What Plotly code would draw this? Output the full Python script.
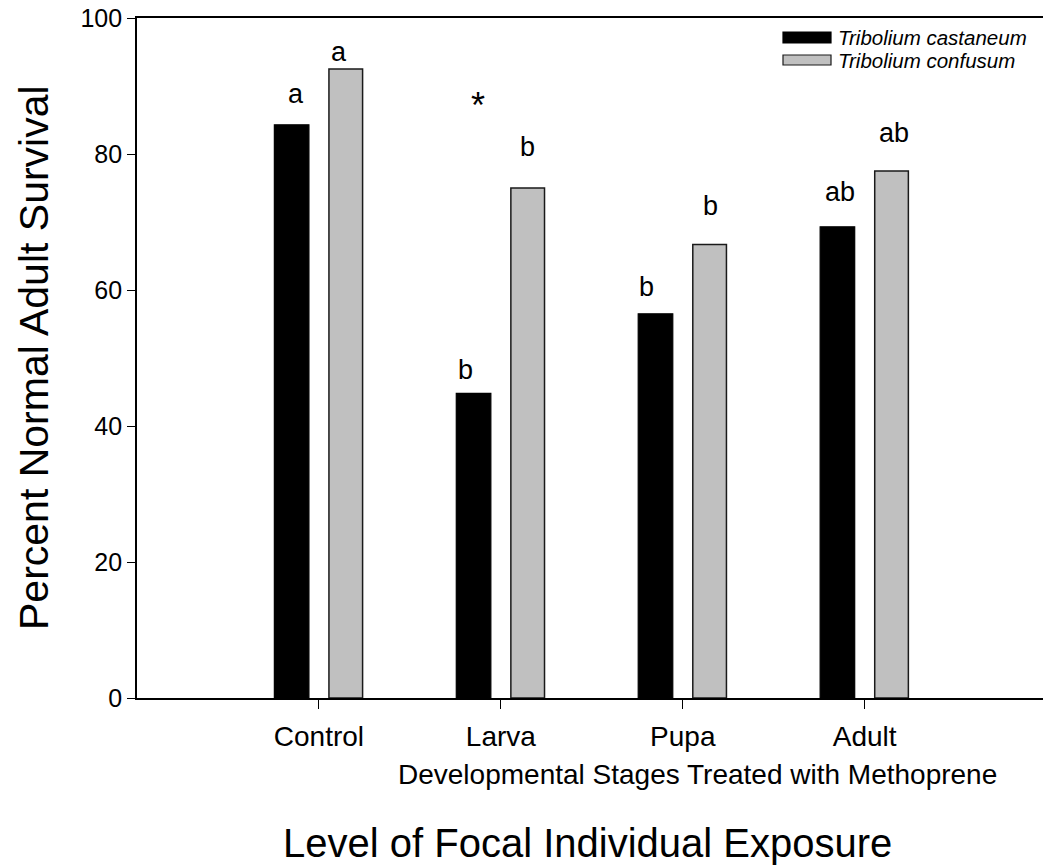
import plotly.graph_objects as go

# Survival data (percent normal adults) by treated developmental stage
stages = ["Control", "Larva", "Pupa", "Adult"]
castaneum = [84.3, 44.8, 56.5, 69.3]
confusum = [92.5, 75.0, 66.7, 77.5]

# Significance letters above each bar and the height (data units) of their baseline
castaneum_letters = ["a", "b", "b", "ab"]
confusum_letters = ["a", "b", "b", "ab"]
castaneum_letter_y = [87.3, 46.8, 59.0, 72.9]
confusum_letter_y = [93.6, 79.6, 70.9, 81.6]

y_ticks = [0, 20, 40, 60, 80, 100]

species_names = ["Tribolium castaneum", "Tribolium confusum"]

FONT = "Arial, Liberation Sans, sans-serif"
BLACK = "#000000"
GREY = "#c0c0c0"

# Figure geometry in pixels
FIG_W, FIG_H = 1043, 867
LEFT, TOP, BOTTOM = 137, 18, 698
PLOT_W = FIG_W - LEFT
PLOT_H = BOTTOM - TOP


def px_x(p):
    return (p - LEFT) / PLOT_W


def px_y(p):
    return (BOTTOM - p) / PLOT_H


BAR_W = 0.19
OFF_A = -0.245
OFF_B = 0.055

fig = go.Figure()
fig.add_trace(go.Bar(
    x=stages, y=castaneum, name=species_names[0],
    width=BAR_W, offset=OFF_A,
    marker=dict(color=BLACK, line=dict(color=BLACK, width=1.2)),
    showlegend=False,
))
fig.add_trace(go.Bar(
    x=stages, y=confusum, name=species_names[1],
    width=BAR_W - 0.005, offset=OFF_B,
    marker=dict(color=GREY, line=dict(color="#1a1a1a", width=1.5)),
    showlegend=False,
))

annotations = []
label_font = dict(family=FONT, size=27, color=BLACK)
shift_a = [4, -8, -9, 3]
shift_b = [-7, -1, 0, 2]
for i in range(len(stages)):
    annotations.append(dict(
        x=i + OFF_A + BAR_W / 2, y=castaneum_letter_y[i], xref="x", yref="y",
        text=castaneum_letters[i], showarrow=False, font=label_font,
        xanchor="center", yanchor="bottom", xshift=shift_a[i], yshift=-7,
    ))
    annotations.append(dict(
        x=i + OFF_B + BAR_W / 2, y=confusum_letter_y[i], xref="x", yref="y",
        text=confusum_letters[i], showarrow=False, font=label_font,
        xanchor="center", yanchor="bottom", xshift=shift_b[i], yshift=-7,
    ))

# Asterisk marking the Larva difference between species
annotations.append(dict(
    x=1 + OFF_A + BAR_W / 2, y=88.0, xref="x", yref="y", text="*",
    showarrow=False, font=dict(family=FONT, size=36, color=BLACK),
    xanchor="center", yanchor="middle", xshift=4, yshift=-6,
))

# Axis titles
annotations.append(dict(
    x=px_x(697.5), y=px_y(774), xref="paper", yref="paper",
    text="Developmental Stages Treated with Methoprene", showarrow=False,
    font=dict(family=FONT, size=28, color=BLACK), xanchor="center", yanchor="middle",
))
annotations.append(dict(
    x=px_x(587.5), y=px_y(843), xref="paper", yref="paper",
    text="Level of Focal Individual Exposure", showarrow=False,
    font=dict(family=FONT, size=40, color=BLACK), xanchor="center", yanchor="middle",
))
annotations.append(dict(
    x=px_x(34), y=px_y(358), xref="paper", yref="paper",
    text="Percent Normal Adult Survival", showarrow=False, textangle=-90,
    font=dict(family=FONT, size=41, color=BLACK), xanchor="center", yanchor="middle",
))

# Legend keys
shapes = []
legend_rows = [(32, 43, BLACK, BLACK), (55, 65, GREY, "#1a1a1a")]
for (y0, y1, fill, edge), name in zip(legend_rows, species_names):
    shapes.append(dict(
        type="rect", xref="paper", yref="paper",
        x0=px_x(783), x1=px_x(831), y0=px_y(y1), y1=px_y(y0),
        fillcolor=fill, line=dict(color=edge, width=1.2),
    ))
    annotations.append(dict(
        x=px_x(836), y=px_y((y0 + y1) / 2), xref="paper", yref="paper",
        text="<i>" + name + "</i>", showarrow=False,
        font=dict(family=FONT, size=20.5, color=BLACK),
        xanchor="left", yanchor="middle",
    ))

fig.update_layout(
    width=FIG_W, height=FIG_H,
    margin=dict(l=LEFT, r=0, t=TOP, b=FIG_H - BOTTOM, pad=0),
    paper_bgcolor="white", plot_bgcolor="white",
    barmode="overlay",
    annotations=annotations, shapes=shapes,
    font=dict(family=FONT, color=BLACK),
    xaxis=dict(
        type="category", range=[-1, 3.98],
        showline=True, linecolor=BLACK, linewidth=1.8, mirror=True,
        ticks="outside", ticklen=9, tickwidth=1.2, tickcolor=BLACK,
        tickfont=dict(family=FONT, size=28, color=BLACK),
        ticklabelstandoff=3,
        showgrid=False, zeroline=False, fixedrange=True,
    ),
    yaxis=dict(
        range=[0, 100], tickvals=y_ticks,
        showline=True, linecolor=BLACK, linewidth=1.8,
        ticks="outside", ticklen=8, tickwidth=1.2, tickcolor=BLACK,
        tickfont=dict(family=FONT, size=25, color=BLACK),
        showgrid=False, zeroline=False, fixedrange=True,
    ),
)

fig.write_html("out.html")
